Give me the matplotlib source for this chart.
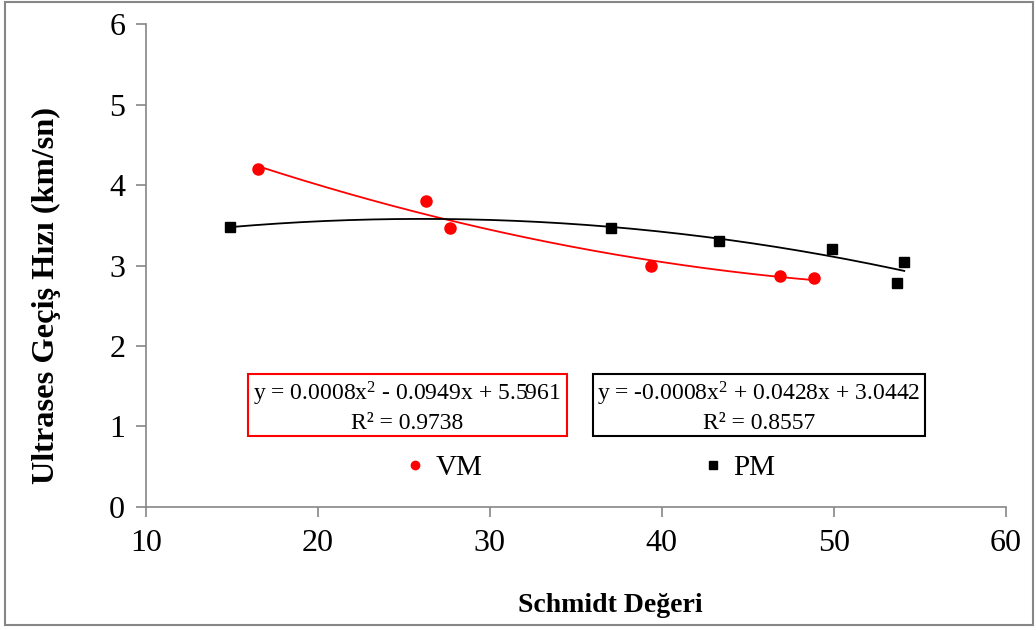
import numpy as np
import matplotlib
matplotlib.use("Agg")
import matplotlib.pyplot as plt
from matplotlib.patches import Rectangle
from matplotlib.lines import Line2D

plt.rcParams['font.family'] = ['Liberation Serif', 'DejaVu Serif']
plt.rcParams['mathtext.fontset'] = 'custom'
plt.rcParams['mathtext.rm'] = 'Liberation Serif'
plt.rcParams['mathtext.it'] = 'Liberation Serif:italic'

# Data
vm_x = [16.5, 26.3, 27.7, 39.35, 46.85, 48.85]
vm_y = [4.20, 3.80, 3.47, 2.99, 2.87, 2.84]
pm_x = [14.9, 37.05, 43.3, 49.9, 54.1, 53.65]
pm_y = [3.48, 3.47, 3.31, 3.21, 3.04, 2.78]
vm_eq = "y = 0.0008x$^2$ - 0.0949x + 5.5961\nR² = 0.9738"
pm_eq = "y = -0.0008x$^2$ + 0.0428x + 3.0442\nR² = 0.8557"
xticks = [10, 20, 30, 40, 50, 60]
yticks = [0, 1, 2, 3, 4, 5, 6]

W, H = 1036, 630
fig = plt.figure(figsize=(W/100, H/100), dpi=100)
ax = fig.add_axes([146/W, 1-506.7/H, (1005.7-146)/W, (506.7-24.3)/H])

gray = '#868686'

# Trend lines
for xs, ys, col in [(vm_x, vm_y, 'red'), (pm_x, pm_y, 'black')]:
    c = np.polyfit(xs, ys, 2)
    xx = np.linspace(min(xs), max(xs), 200)
    ax.plot(xx, np.polyval(c, xx), color=col, lw=1.3, zorder=2)

ax.plot(vm_x, vm_y, 'o', color='red', ms=8, mec='red', zorder=3)
ax.plot(pm_x, pm_y, 's', color='black', ms=7.5, zorder=3)

ax.set_xlim(10, 60)
ax.set_ylim(0, 6)
ax.set_xticks(xticks)
ax.set_yticks(yticks)
ax.tick_params(axis='both', direction='out', length=7, width=1.2, color=gray,
               labelsize=23)
ax.tick_params(axis='y', pad=8)
ax.tick_params(axis='x', pad=9)
for s in ['top', 'right']:
    ax.spines[s].set_visible(False)
for s in ['left', 'bottom']:
    ax.spines[s].set_color(gray)
    ax.spines[s].set_linewidth(1.2)

fig.text(610/W, 1-606/H, 'Schmidt Değeri', ha='center', va='center',
         fontsize=20, fontweight='bold')
fig.text(46/W, 1-296/H, 'Ultrases Geçiş Hızı (km/sn)', ha='center', va='center',
         rotation=90, fontsize=23.3, fontweight='bold')

# Equation boxes
def pxrect(x0, y0, x1, y1, col):
    fig.patches.append(Rectangle((x0/W, 1-y1/H), (x1-x0)/W, (y1-y0)/H,
                                 transform=fig.transFigure, fill=False,
                                 edgecolor=col, lw=1.5))

pxrect(247.7, 374, 567, 436, 'red')
pxrect(593.3, 374, 925, 436, 'black')
fig.text(407/W, 1-407/H, vm_eq, ha='center', va='center', fontsize=17,
         linespacing=1.35, multialignment='center')
fig.text(759/W, 1-407/H, pm_eq, ha='center', va='center', fontsize=17,
         linespacing=1.35, multialignment='center')

# Legend
handles = [Line2D([], [], marker='o', color='red', ls='none', ms=6),
           Line2D([], [], marker='s', color='black', ls='none', ms=6)]
leg = fig.legend(handles, ['VM', 'PM'], ncol=2, frameon=False, fontsize=21,
                 loc='center', bbox_to_anchor=(591/W, 1-468/H),
                 handlelength=0.6, handletextpad=0.4, columnspacing=7.6)

# Outer border
fig.patches.append(Rectangle((5/W, 1-624.5/H), (1033-5)/W, (624.5-2)/H,
                             transform=fig.transFigure, fill=False,
                             edgecolor=gray, lw=1.5))

fig.savefig('out.png', dpi=100)
